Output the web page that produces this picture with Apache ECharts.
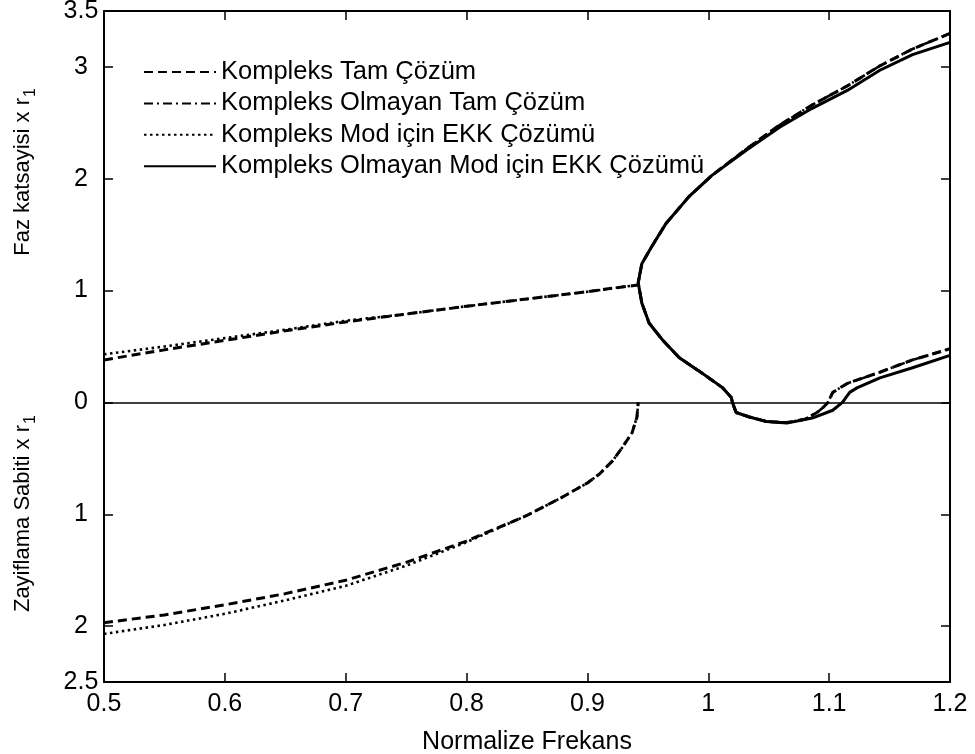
<!DOCTYPE html>
<html>
<head>
<meta charset="utf-8">
<script src="https://cdn.jsdelivr.net/npm/echarts@6/dist/echarts.min.js"></script>
<style>
  html, body { margin: 0; background: #fff; }
  #chart { width: 975px; height: 754px; }
</style>
</head>
<body>
<div id="chart"></div>
<script>
// legend names
var adTam = "Kompleks Tam Çözüm";
var adOlmayanTam = "Kompleks Olmayan Tam Çözüm";
var adModEkk = "Kompleks Mod için EKK Çözümü";
var adOlmayanEkk = "Kompleks Olmayan Mod için EKK Çözümü";

// tick values (alt yari zayiflama, negatif cizilip mutlak deger yazilir)
var xTicks = [0.5, 0.6, 0.7, 0.8, 0.9, 1.0, 1.1, 1.2];
var yTicks = [-2, -1, 0, 1, 2, 3];
var yLabels = [-2.5, -2, -1, 0, 1, 2, 3, 3.5];

// Kompleks Tam Cozum - kesim altinda faz (ust) ve zayiflama (alt)
var tamUst = [[0.5,0.38],[0.55,0.47],[0.6,0.555],[0.65,0.64],[0.7,0.72],[0.75,0.79],
  [0.8,0.86],[0.85,0.925],[0.9,0.99],[0.92,1.02],[0.942,1.05]];
var tamAlt = [[0.5,-1.97],[0.55,-1.9],[0.6,-1.81],[0.65,-1.71],[0.7,-1.59],[0.75,-1.43],
  [0.8,-1.24],[0.85,-1.01],[0.877,-0.86],[0.9,-0.72],[0.91,-0.64],[0.921,-0.52],
  [0.929,-0.4],[0.937,-0.27],[0.941,-0.13],[0.942,0]];

// Kompleks Mod icin EKK - sol dallar
var ekkUst = [[0.5,0.43],[0.55,0.5],[0.6,0.575],[0.65,0.65],[0.7,0.73],[0.75,0.79],
  [0.8,0.86],[0.85,0.925],[0.9,0.99],[0.92,1.02],[0.942,1.05]];
var ekkAlt = [[0.5,-2.07],[0.55,-1.99],[0.6,-1.89],[0.65,-1.77],[0.7,-1.64],[0.75,-1.46],
  [0.8,-1.25],[0.85,-1.01],[0.877,-0.86],[0.9,-0.72],[0.91,-0.64],[0.921,-0.52],
  [0.929,-0.4],[0.937,-0.27],[0.941,-0.13],[0.942,0]];

// Kompleks Olmayan Tam Cozum - kesim ustu (burun egrisi)
var olmayanTam = [[1.2,3.3],[1.169,3.16],[1.142,3.01],[1.115,2.83],[1.086,2.66],[1.059,2.48],
  [1.032,2.27],[1.003,2.03],[0.984,1.84],[0.965,1.6],[0.953,1.39],[0.945,1.24],[0.942,1.07],
  [0.945,0.89],[0.951,0.71],[0.962,0.56],[0.976,0.4],[0.995,0.26],[1.012,0.13],[1.019,0.045],
  [1.02,0],[1.023,-0.09],[1.034,-0.13],[1.048,-0.17],[1.065,-0.18],[1.08,-0.15],[1.09,-0.09],
  [1.095,-0.045],[1.099,0],[1.103,0.09],[1.115,0.17],[1.142,0.27],[1.169,0.38],[1.2,0.48]];

// Kompleks Olmayan Mod icin EKK
var olmayanEkk = [[1.2,3.22],[1.169,3.11],[1.142,2.97],[1.115,2.79],[1.086,2.63],[1.059,2.46],
  [1.032,2.26],[1.003,2.03],[0.984,1.84],[0.965,1.6],[0.953,1.39],[0.945,1.24],[0.942,1.07],
  [0.945,0.89],[0.951,0.71],[0.962,0.56],[0.976,0.4],[0.995,0.26],[1.012,0.13],[1.019,0.045],
  [1.02,0],[1.023,-0.09],[1.034,-0.13],[1.048,-0.17],[1.065,-0.185],[1.086,-0.14],[1.103,-0.07],
  [1.111,0],[1.117,0.09],[1.123,0.13],[1.142,0.22],[1.169,0.31],[1.2,0.42]];

var font = "Liberation Sans, Arial, sans-serif";
var fs = 25;     // yatay yazilar
var fsRot = 22;  // dikey eksen basliklari

function lineSeries(name, data, style) {
  return {
    name: name,
    type: "line",
    data: data,
    symbol: "none",
    smooth: false,
    animation: false,
    lineStyle: style
  };
}

var dashed = { color: "#000", width: 3, type: [9, 5] };
var dashDot = { color: "#000", width: 2.6, type: [9, 4, 2, 4] };
var dotted = { color: "#000", width: 2.6, type: [2.5, 3.5] };
var solid = { color: "#000", width: 3, type: "solid" };

var myChart = echarts.init(document.getElementById("chart"));

var solidSeries = lineSeries(adOlmayanEkk, olmayanEkk, solid);
solidSeries.markLine = {
  silent: true,
  symbol: "none",
  animation: false,
  label: { show: false },
  lineStyle: { color: "#000", type: "solid", width: 1.5 },
  data: [{ yAxis: 0 }]
};

function yTitle(text, x, y) {
  return {
    type: "group", x: x, y: y, rotation: Math.PI / 2,
    children: [
      { type: "text", x: 0, y: 0, style: { text: text, fill: "#000", fontSize: fsRot, fontFamily: font, align: "right", verticalAlign: "middle" } },
      { type: "text", x: 1, y: 8, style: { text: "1", fill: "#000", fontSize: 16, fontFamily: font, align: "left", verticalAlign: "middle" } }
    ]
  };
}

myChart.setOption({
  backgroundColor: "#fff",
  color: ["#000"],
  textStyle: { fontFamily: font },
  grid: { left: 104, right: 25, top: 11, bottom: 72, containLabel: false, outerBoundsMode: "none" },
  legend: {
    orient: "vertical",
    left: 138,
    top: 54,
    itemWidth: 72,
    itemHeight: 14,
    itemGap: 5.4,
    selectedMode: false,
    itemStyle: { opacity: 0 },
    textStyle: { color: "#000", fontSize: 25.5, fontFamily: font, lineHeight: 25 },
    data: [adTam, adOlmayanTam, adModEkk, adOlmayanEkk]
  },
  xAxis: [
    {
      type: "value", min: 0.5, max: 1.2, interval: 0.1, position: "bottom",
      axisLine: { onZero: false, lineStyle: { color: "#000", width: 2 } },
      axisTick: { inside: true, length: 9, customValues: xTicks, lineStyle: { color: "#000", width: 1.5 } },
      axisLabel: {
        color: "#000", fontSize: fs, fontFamily: font, margin: 10, customValues: xTicks,
        formatter: function (v) { return String(+(+v).toFixed(1)); }
      },
      splitLine: { show: false },
      name: "Normalize Frekans", nameLocation: "middle", nameGap: 48,
      nameTextStyle: { color: "#000", fontSize: fs, fontFamily: font }
    },
    {
      type: "value", min: 0.5, max: 1.2, interval: 0.1, position: "top",
      axisLine: { onZero: false, lineStyle: { color: "#000", width: 2 } },
      axisTick: { inside: true, length: 9, customValues: xTicks, lineStyle: { color: "#000", width: 1.5 } },
      axisLabel: { show: false },
      splitLine: { show: false }
    }
  ],
  yAxis: [
    {
      type: "value", min: -2.5, max: 3.5, interval: 0.5, position: "left",
      axisLine: { onZero: false, lineStyle: { color: "#000", width: 2 } },
      axisTick: { inside: true, length: 9, customValues: yTicks, lineStyle: { color: "#000", width: 1.5 } },
      axisLabel: {
        color: "#000", fontSize: fs, fontFamily: font, margin: 23, align: "center", customValues: yLabels,
        formatter: function (v) { return String(Math.abs(v)); }
      },
      splitLine: { show: false }
    },
    {
      type: "value", min: -2.5, max: 3.5, interval: 0.5, position: "right",
      axisLine: { onZero: false, lineStyle: { color: "#000", width: 2 } },
      axisTick: { inside: true, length: 9, customValues: yTicks, lineStyle: { color: "#000", width: 1.5 } },
      axisLabel: { show: false },
      splitLine: { show: false }
    }
  ],
  graphic: [
    yTitle("Faz katsayisi x r", 23, 98),
    yTitle("Zayiflama Sabiti x r", 23, 425)
  ],
  series: [
    solidSeries,
    lineSeries(adOlmayanTam, olmayanTam, dashDot),
    lineSeries(adTam, tamUst, dashed),
    lineSeries(adTam, tamAlt, dashed),
    lineSeries(adTam, olmayanTam, dashed),
    lineSeries(adModEkk, ekkUst, dotted),
    lineSeries(adModEkk, ekkAlt, dotted)
  ]
});
</script>
</body>
</html>
